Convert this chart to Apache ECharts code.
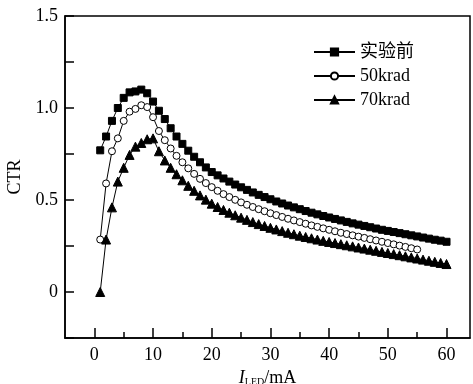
<!DOCTYPE html>
<html><head><meta charset="utf-8">
<script src="https://cdn.jsdelivr.net/npm/echarts@6/dist/echarts.min.js"></script>
<style>html,body{margin:0;padding:0;background:#fff}#c{width:473px;height:384px}</style>
</head><body><div id="c"></div>
<script>
const seriesNames = ['实验前', '50krad', '70krad'];
const xBefore = [1,2,3,4,5,6,7,8,9,10,11,12,13,14,15,16,17,18,19,20,21,22,23,24,25,26,27,28,29,30,31,32,33,34,35,36,37,38,39,40,41,42,43,44,45,46,47,48,49,50,51,52,53,54,55,56,57,58,59,60];
const yBefore = [0.77,0.845,0.93,1.00,1.055,1.085,1.09,1.10,1.08,1.035,
  0.985,0.94,0.89,0.845,0.805,0.768,0.735,0.705,0.677,0.652,
  0.634,0.617,0.600,0.584,0.569,0.555,0.541,0.528,0.516,0.504,
  0.492,0.481,0.470,0.460,0.450,0.440,0.431,0.422,0.413,0.405,
  0.397,0.389,0.381,0.373,0.366,0.359,0.352,0.345,0.338,0.332,
  0.326,0.320,0.314,0.308,0.302,0.296,0.290,0.284,0.279,0.273];
const x50 = [1,2,3,4,5,6,7,8,9,10,11,12,13,14,15,16,17,18,19,20,21,22,23,24,25,26,27,28,29,30,31,32,33,34,35,36,37,38,39,40,41,42,43,44,45,46,47,48,49,50,51,52,53,54,55];
const y50 = [0.285,0.59,0.765,0.835,0.93,0.98,0.995,1.015,1.005,0.95,
  0.875,0.825,0.78,0.74,0.705,0.672,0.642,0.615,0.592,0.570,
  0.550,0.532,0.516,0.501,0.487,0.474,0.462,0.450,0.439,0.428,
  0.418,0.408,0.398,0.389,0.380,0.371,0.362,0.354,0.346,0.338,
  0.330,0.322,0.315,0.308,0.301,0.294,0.287,0.280,0.273,0.266,
  0.259,0.252,0.245,0.238,0.231];
const x70 = xBefore;
const y70 = [0.0,0.285,0.46,0.60,0.675,0.745,0.79,0.81,0.83,0.835,
  0.765,0.715,0.675,0.64,0.607,0.577,0.55,0.525,0.502,0.48,
  0.462,0.446,0.431,0.417,0.404,0.392,0.380,0.369,0.359,0.349,
  0.340,0.331,0.322,0.314,0.306,0.299,0.292,0.285,0.278,0.272,
  0.266,0.260,0.254,0.248,0.242,0.236,0.230,0.224,0.218,0.212,
  0.206,0.200,0.194,0.188,0.182,0.176,0.170,0.164,0.158,0.152];
const xMajorTicks = [0,10,20,30,40,50,60];
const xMinorTicks = [5,15,25,35,45,55];
const yTicks = [-0.25,0,0.25,0.5,0.75,1.0,1.25,1.5];
const yLabels = [0,0.5,1.0,1.5];

const pairs = (xs, ys) => xs.map((x, i) => [x, ys[i]]);
const serif = '"Liberation Serif", "Times New Roman", serif';
const chart = echarts.init(document.getElementById('c'), null, {renderer: 'canvas'});
const base = {type: 'line', symbolSize: 7, showSymbol: true, lineStyle: {color: '#000', width: 1}, itemStyle: {color: '#000', borderColor: '#000', borderWidth: 1}, animation: false};
const gridPos = {left: 65, right: 3, top: 16, bottom: 46, outerBoundsMode: 'none', containLabel: false};
chart.setOption({
  animation: false,
  backgroundColor: '#fff',
  grid: [
    Object.assign({show: true, borderColor: '#000', borderWidth: 1.5, backgroundColor: 'transparent'}, gridPos),
    Object.assign({show: false}, gridPos)
  ],
  legend: {
    orient: 'vertical', left: 313, top: 43, padding: 0, itemWidth: 41, itemHeight: 9, itemGap: 6,
    textStyle: {fontFamily: serif + ', "Noto Sans CJK SC"', fontSize: 18, color: '#000', padding: [0,0,0,0]},
    data: seriesNames
  },
  xAxis: [{
    gridIndex: 0, type: 'value', min: -5, max: 64,
    name: '{i|I}{sub|LED}{n|/mA}', nameLocation: 'middle', nameGap: 26,
    nameTextStyle: {rich: {
      i: {fontFamily: serif, fontStyle: 'italic', fontSize: 18, color: '#000'},
      sub: {fontFamily: serif, fontSize: 10, color: '#000', verticalAlign: 'bottom', padding: [8,0,0,0]},
      n: {fontFamily: serif, fontSize: 18, color: '#000'}
    }},
    axisLine: {show: true, onZero: false, lineStyle: {color: '#000', width: 1.5}},
    axisTick: {show: true, inside: true, length: 10, customValues: xMajorTicks, lineStyle: {color: '#000', width: 1.5}},
    axisLabel: {customValues: xMajorTicks, fontFamily: serif, fontSize: 18, color: '#000', margin: 8},
    splitLine: {show: false}
  }, {
    gridIndex: 1, type: 'value', min: -5, max: 64, position: 'bottom',
    axisLine: {show: false, onZero: false},
    axisTick: {show: true, inside: true, length: 6, customValues: xMinorTicks, lineStyle: {color: '#000', width: 1.5}},
    axisLabel: {show: false},
    splitLine: {show: false}
  }],
  yAxis: [{
    gridIndex: 0, type: 'value', min: -0.25, max: 1.5,
    name: 'CTR', nameLocation: 'middle', nameGap: 37, nameRotate: 90,
    nameTextStyle: {fontFamily: serif, fontSize: 18, color: '#000'},
    axisLine: {show: true, onZero: false, lineStyle: {color: '#000', width: 1.5}},
    axisTick: {show: true, inside: true, length: 9, customValues: yTicks, lineStyle: {color: '#000', width: 1.5}},
    axisLabel: {customValues: yLabels, fontFamily: serif, fontSize: 18, color: '#000', margin: 7,
      formatter: v => (v === 0 ? '0' : v.toFixed(1))},
    splitLine: {show: false}
  }, {
    gridIndex: 1, type: 'value', min: -0.25, max: 1.5, show: false
  }],
  series: [
    Object.assign({}, base, {name: seriesNames[0], symbol: 'rect', symbolSize: 7, data: pairs(xBefore, yBefore)}),
    Object.assign({}, base, {name: seriesNames[1], symbol: 'circle', symbolSize: 7, itemStyle: {color: '#fff', borderColor: '#000', borderWidth: 1}, data: pairs(x50, y50)}),
    Object.assign({}, base, {name: seriesNames[2], symbol: 'triangle', symbolSize: 9, data: pairs(x70, y70)}),
    {type: 'line', xAxisIndex: 1, yAxisIndex: 1, data: [], silent: true}
  ]
});
</script></body></html>
